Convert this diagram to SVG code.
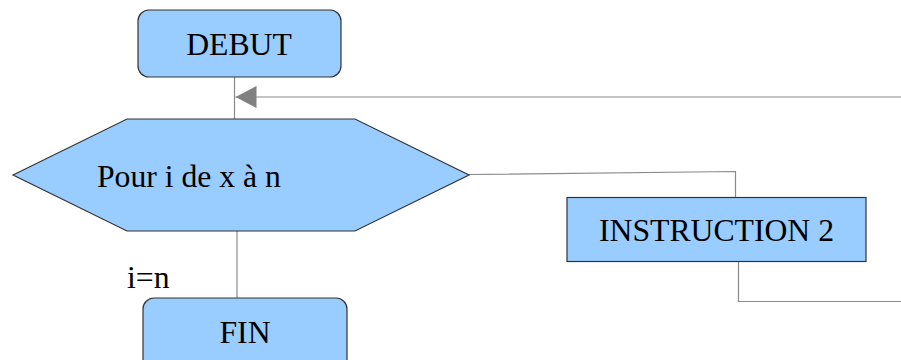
<svg xmlns="http://www.w3.org/2000/svg" width="901" height="360" viewBox="0 0 901 360">
<defs>
<style>
.node{fill:#99ccff;stroke:#333333;stroke-width:1.2}
.lbl{font-family:"Liberation Serif","Times New Roman",serif;font-size:31.7px;fill:#000}
.conn{fill:none;stroke:#8a8a8a;stroke-width:1.2}
</style>
<marker id="arr" markerUnits="userSpaceOnUse" markerWidth="22" markerHeight="24" refX="21" refY="11" orient="auto">
<path d="M0,0 L21,11 L0,22 Z" fill="#808080"/>
</marker>
</defs>
<rect width="901" height="360" fill="#fff"/>
<g id="connectors">
<line class="conn" x1="234.5" y1="77" x2="234.5" y2="119"/>
<line class="conn" x1="901" y1="97" x2="235.5" y2="97" marker-end="url(#arr)"/>
<polyline class="conn" points="469,174.5 735.5,171.5 735.5,197"/>
<polyline class="conn" points="738.5,262 738.5,301.5 901,301.5"/>
<line class="conn" x1="237" y1="231" x2="237" y2="298"/>
</g>
<g id="debut">
<rect class="node" x="138" y="10" width="203" height="67" rx="11"/>
<text class="lbl" x="239" y="55" text-anchor="middle">DEBUT</text>
</g>
<g id="pour">
<polygon class="node" points="13,175 127,119 355,119 469,175 355,231 127,231"/>
<text class="lbl" x="97" y="187">Pour i de x à n</text>
</g>
<g id="instruction2">
<rect class="node" x="567" y="197.5" width="299" height="64"/>
<text class="lbl" x="716.5" y="241" text-anchor="middle">INSTRUCTION 2</text>
</g>
<g id="fin">
<rect class="node" x="143" y="298" width="204" height="80" rx="11"/>
<text class="lbl" x="245" y="343" text-anchor="middle">FIN</text>
</g>
<text class="lbl" x="127" y="288">i=n</text>
</svg>
